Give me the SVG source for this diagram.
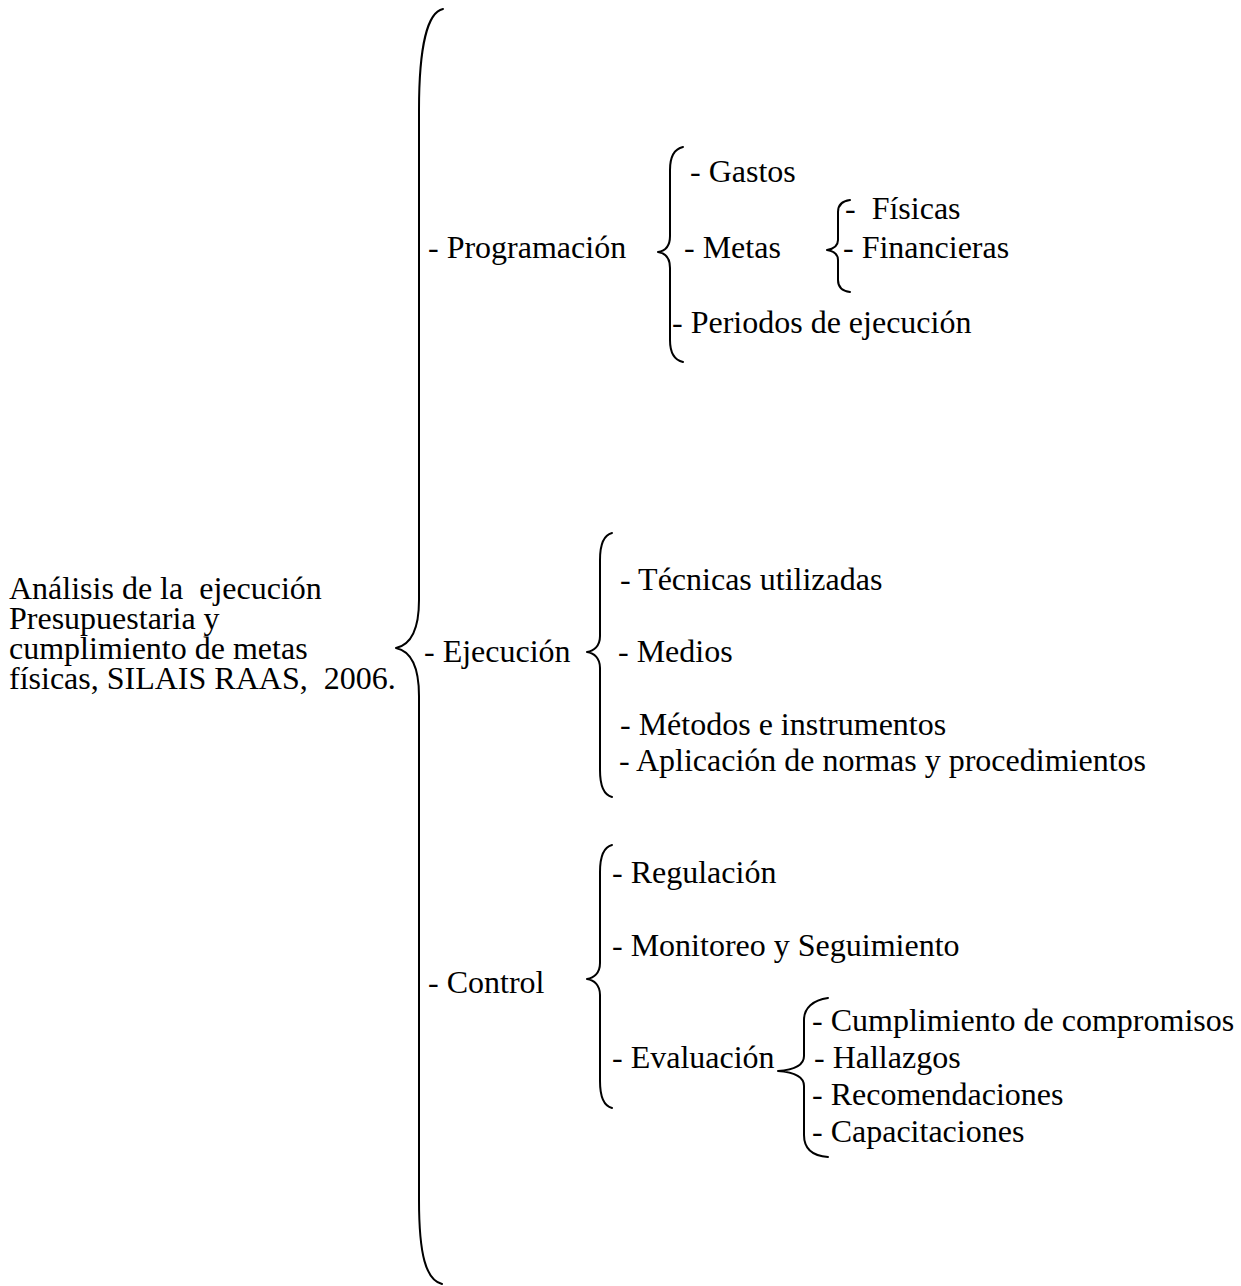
<svg xmlns="http://www.w3.org/2000/svg" width="1241" height="1286" viewBox="0 0 1241 1286">
<style>
text{font-family:"Liberation Serif","Times New Roman",serif;font-size:32px;fill:#000;white-space:pre}
.b{fill:none;stroke:#000;stroke-width:2;stroke-linecap:round;stroke-linejoin:round}
</style>
<rect width="1241" height="1286" fill="#fff"/>
<g id="connectors">
<path class="b" d="M443,9 C428,12 419,45 419,110 L419,600 C419,632 410,645 396,648 C410,651 419,664 419,696 L419,1200 C419,1255 426,1280 442,1284"/>
<path class="b" d="M683,147 C674,149 670,157 670,170 L670,236 C670,246 665,251 658,252 C665,253 670,258 670,268 L670,340 C670,353 674,360 683,362"/>
<path class="b" d="M850,200 C842,201 838,205 838,212 L838,240 C838,246 833,249 827,250 C833,251 838,254 838,260 L838,280 C838,287 842,291 850,292"/>
<path class="b" d="M612,533 C604,535 600,545 600,560 L600,636 C600,646 594,651 587,652 C594,653 600,658 600,668 L600,770 C600,785 604,795 612,797"/>
<path class="b" d="M612,845 C604,847 600,857 600,872 L600,963 C600,973 594,978 587,979 C594,980 600,985 600,995 L600,1081 C600,1096 604,1106 612,1108"/>
<path class="b" d="M828,998 C813,1000 804,1008 804,1020 L804,1056 C804,1066 792,1070 778,1071 C792,1072 804,1076 804,1086 L804,1135 C804,1150 813,1156 828,1157"/>
</g>
<g id="root">
<text x="9" y="599">Análisis de la  ejecución</text>
<text x="9" y="629">Presupuestaria y</text>
<text x="9" y="659">cumplimiento de metas</text>
<text x="9" y="689">físicas, SILAIS RAAS,  2006.</text>
</g>
<g id="programacion"><text x="428" y="258">- Programación</text></g>
<g id="gastos"><text x="690" y="182">- Gastos</text></g>
<g id="metas"><text x="684" y="258">- Metas</text></g>
<g id="fisicas"><text x="845" y="219">-  Físicas</text></g>
<g id="financieras"><text x="843" y="258">- Financieras</text></g>
<g id="periodos"><text x="672" y="333">- Periodos de ejecución</text></g>
<g id="ejecucion"><text x="424" y="662">- Ejecución</text></g>
<g id="tecnicas"><text x="620" y="590">- Técnicas utilizadas</text></g>
<g id="medios"><text x="618" y="662">- Medios</text></g>
<g id="metodos"><text x="620" y="735">- Métodos e instrumentos</text></g>
<g id="aplicacion"><text x="619" y="771">- Aplicación de normas y procedimientos</text></g>
<g id="control"><text x="428" y="993">- Control</text></g>
<g id="regulacion"><text x="612" y="883">- Regulación</text></g>
<g id="monitoreo"><text x="612" y="956">- Monitoreo y Seguimiento</text></g>
<g id="evaluacion"><text x="612" y="1068">- Evaluación</text></g>
<g id="cumplimiento"><text x="812" y="1031">- Cumplimiento de compromisos</text></g>
<g id="hallazgos"><text x="814" y="1068">- Hallazgos</text></g>
<g id="recomendaciones"><text x="812" y="1105">- Recomendaciones</text></g>
<g id="capacitaciones"><text x="812" y="1142">- Capacitaciones</text></g>
</svg>
